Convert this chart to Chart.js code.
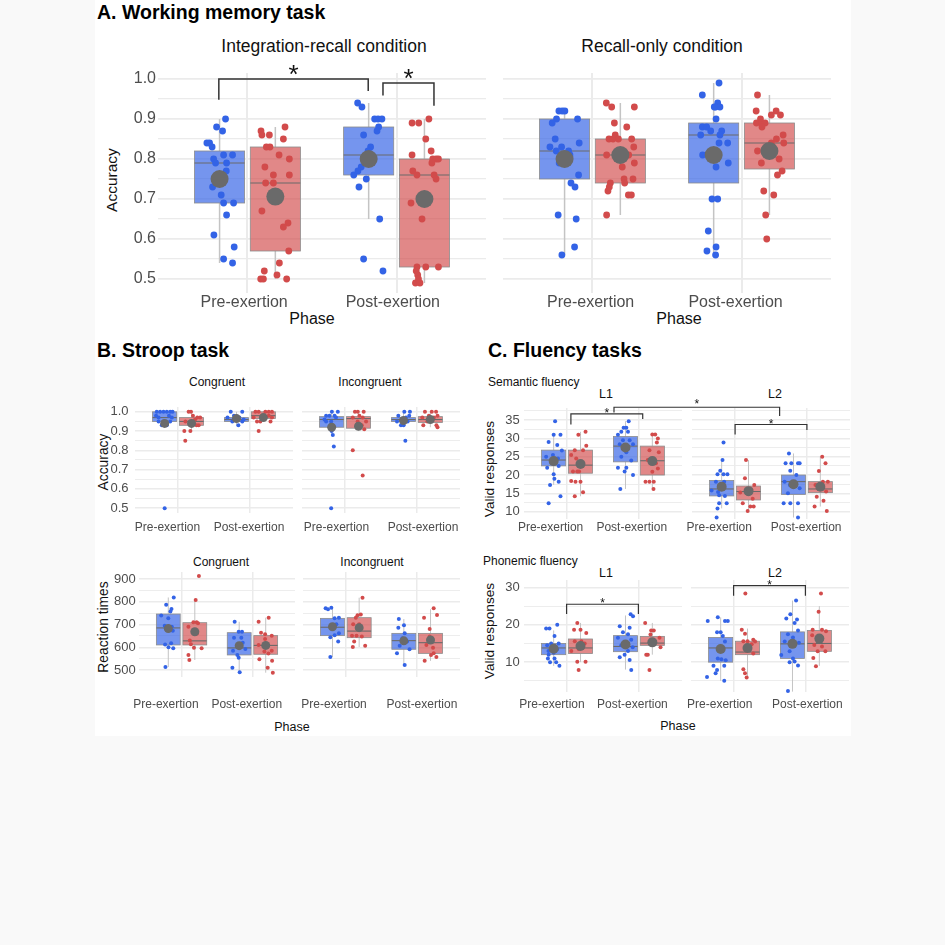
<!DOCTYPE html>
<html>
<head>
<meta charset="utf-8">
<script src="https://cdn.jsdelivr.net/npm/chart.js@4.4.1/dist/chart.umd.min.js"></script>
<style>
html, body { margin: 0; padding: 0; background: #f9f9f9; }
#fig { position: absolute; left: 95px; top: 0; width: 756px; height: 736px; background: #fff; }
canvas { position: absolute; }
.t { position: absolute; font-family: "Liberation Sans", Arial, sans-serif; white-space: nowrap; color: #111; }
.c { transform: translate(-50%, -50%); }
.l { transform: translate(0, -50%); }
.r { transform: translate(-50%, -50%) rotate(-90deg); }
.h { font-weight: bold; font-size: 19.5px; color: #000; }
</style>
</head>
<body>
<div id="fig"></div>

<div class="t l h" style="left:97px;top:12px">A. Working memory task</div>
<div class="t c" style="left:324px;top:46px;font-size:17.5px">Integration-recall condition</div>
<div class="t c" style="left:662px;top:46px;font-size:17.5px">Recall-only condition</div>
<div class="t r" style="left:112px;top:180px;font-size:15.5px">Accuracy</div>
<div class="t c" style="left:312px;top:319px;font-size:16px">Phase</div>
<div class="t c" style="left:679px;top:319px;font-size:16px">Phase</div>

<div class="t l h" style="left:97px;top:350px">B. Stroop task</div>
<div class="t c" style="left:217px;top:382px;font-size:12px">Congruent</div>
<div class="t c" style="left:370px;top:382px;font-size:12px">Incongruent</div>
<div class="t r" style="left:103px;top:462px;font-size:13.8px">Accuracy</div>
<div class="t c" style="left:221px;top:562px;font-size:12px">Congruent</div>
<div class="t c" style="left:372px;top:562px;font-size:12px">Incongruent</div>
<div class="t r" style="left:103px;top:627px;font-size:13.8px">Reaction times</div>
<div class="t c" style="left:292px;top:727px;font-size:12.5px">Phase</div>

<div class="t l h" style="left:488px;top:350px">C. Fluency tasks</div>
<div class="t l" style="left:488px;top:382px;font-size:12px">Semantic fluency</div>
<div class="t c" style="left:606px;top:394px;font-size:12.5px">L1</div>
<div class="t c" style="left:775px;top:394px;font-size:12.5px">L2</div>
<div class="t r" style="left:489px;top:469px;font-size:13.7px">Valid responses</div>
<div class="t l" style="left:483px;top:561px;font-size:12px">Phonemic fluency</div>
<div class="t c" style="left:606px;top:573px;font-size:12.5px">L1</div>
<div class="t c" style="left:775px;top:573px;font-size:12.5px">L2</div>
<div class="t r" style="left:489px;top:631px;font-size:13.7px">Valid responses</div>
<div class="t c" style="left:678px;top:726px;font-size:12.5px">Phase</div>

<script>
// ---- data ----
// group order in every panel: [pre blue, pre red, post blue, post red]
// boxes: [lowWhisker, q1, median, q3, highWhisker, mean]
// points: [jitter, value]
const phases = ['Pre-exertion', 'Post-exertion'];
const accTicks = [0.5, 0.6, 0.7, 0.8, 0.9, 1.0];
const rtTicks = [500, 600, 700, 800, 900];
const semTicks = [10, 15, 20, 25, 30, 35];
const phonTicks = [10, 20, 30];

const wmIntegBoxes = [
    [0.54, 0.69, 0.79, 0.82, 0.90, 0.75],
    [0.50, 0.57, 0.74, 0.83, 0.88, 0.706],
    [0.65, 0.76, 0.81, 0.88, 0.94, 0.80],
    [0.49, 0.53, 0.76, 0.80, 0.90, 0.70]
];
const wmIntegPoints = [
    [[0.04,0.90],[-0.02,0.88],[0.02,0.87],[-0.085,0.84],[-0.067,0.84],[-0.05,0.83],[0.027,0.81],[0.087,0.81],[-0.04,0.80],[-0.027,0.79],[0.047,0.79],[0.045,0.77],[-0.047,0.73],[0.011,0.71],[0.027,0.69],[0.094,0.69],[0.047,0.66],[-0.038,0.61],[0.098,0.58],[0.027,0.55],[0.087,0.54]],
    [[-0.096,0.87],[-0.09,0.86],[-0.04,0.86],[0.065,0.88],[0.054,0.85],[-0.06,0.83],[-0.036,0.83],[0.025,0.81],[0.094,0.80],[-0.07,0.78],[-0.013,0.76],[0.094,0.76],[-0.065,0.74],[-0.013,0.74],[-0.09,0.67],[0.085,0.64],[0.054,0.63],[0.09,0.57],[0.027,0.54],[-0.074,0.52],[0.011,0.51],[-0.098,0.50],[-0.08,0.50],[0.076,0.50]],
    [[-0.074,0.94],[-0.045,0.93],[0.04,0.90],[0.063,0.90],[0.089,0.90],[0.067,0.88],[0.056,0.87],[-0.034,0.86],[0.013,0.83],[-0.004,0.82],[-0.05,0.78],[-0.072,0.77],[-0.1,0.76],[-0.016,0.75],[-0.065,0.73],[0.074,0.65],[-0.034,0.55],[0.096,0.52]],
    [[-0.083,0.89],[-0.038,0.89],[0.03,0.90],[0.009,0.85],[0.045,0.82],[-0.083,0.81],[0.056,0.80],[0.078,0.80],[0.094,0.80],[0.05,0.79],[-0.078,0.77],[-0.05,0.76],[0.065,0.76],[0.078,0.75],[-0.09,0.69],[-0.016,0.65],[-0.05,0.53],[0.009,0.53],[0.094,0.53],[-0.055,0.52],[-0.045,0.51],[-0.06,0.49],[-0.03,0.49],[-0.04,0.50]]
];
const wmRecallBoxes = [
    [0.56, 0.75, 0.82, 0.90, 0.92, 0.80],
    [0.66, 0.74, 0.81, 0.85, 0.94, 0.81],
    [0.56, 0.74, 0.86, 0.89, 0.99, 0.81],
    [0.66, 0.775, 0.84, 0.89, 0.96, 0.82]
];
const wmRecallPoints = [
    [[-0.038,0.92],[-0.016,0.92],[0.002,0.92],[-0.054,0.90],[-0.083,0.89],[0.087,0.90],[-0.063,0.85],[-0.098,0.83],[-0.02,0.83],[0.098,0.84],[-0.056,0.82],[0.027,0.82],[0.036,0.81],[-0.036,0.79],[0.094,0.76],[0.043,0.74],[0.07,0.73],[-0.043,0.66],[0.078,0.65],[0.067,0.58],[-0.018,0.56]],
    [[-0.094,0.94],[-0.058,0.93],[0.094,0.93],[-0.04,0.89],[0.043,0.88],[-0.034,0.86],[-0.076,0.85],[-0.049,0.85],[-0.013,0.85],[0.076,0.85],[0.09,0.83],[-0.092,0.81],[0.056,0.81],[0.094,0.79],[0.013,0.78],[0.025,0.75],[0.085,0.75],[0.029,0.74],[-0.067,0.74],[-0.074,0.73],[-0.083,0.72],[0.054,0.71],[0.074,0.71],[-0.092,0.66]],
    [[0.036,0.99],[-0.076,0.96],[0.027,0.94],[0.013,0.93],[0.042,0.93],[0.004,0.93],[0.016,0.90],[-0.076,0.88],[-0.047,0.88],[-0.02,0.87],[0.054,0.87],[0.042,0.86],[-0.087,0.86],[0.094,0.84],[0.036,0.84],[-0.074,0.81],[0.098,0.79],[0.016,0.78],[-0.011,0.70],[0.027,0.70],[-0.036,0.62],[0.016,0.58],[-0.045,0.57],[0.013,0.56]],
    [[-0.08,0.96],[-0.089,0.92],[0.045,0.92],[0.013,0.91],[0.074,0.91],[-0.06,0.90],[-0.087,0.89],[-0.054,0.89],[-0.029,0.89],[-0.05,0.88],[0.092,0.86],[0.047,0.85],[0.096,0.84],[0.013,0.84],[-0.08,0.82],[0.065,0.80],[-0.054,0.79],[0.085,0.77],[0.054,0.76],[-0.038,0.72],[0.029,0.71],[-0.025,0.66],[-0.018,0.60]]
];

const stroopCongAccBoxes = [
    [0.93, 0.95, 0.97, 1.0, 1.0, 0.94],
    [0.90, 0.93, 0.95, 0.97, 1.0, 0.94],
    [0.93, 0.95, 0.96, 0.97, 1.0, 0.965],
    [0.95, 0.965, 0.98, 1.0, 1.0, 0.97]
];
const stroopCongAccPoints = [
    [[-0.11,1.0],[-0.063,1.0],[-0.016,1.0],[0.03,1.0],[0.077,1.0],[0.11,1.0],[-0.12,0.98],[0.06,0.98],[-0.085,0.97],[0.1,0.97],[-0.085,0.95],[-0.015,0.95],[0.077,0.95],[-0.04,0.93],[0.03,0.93],[0,0.5]],
    [[-0.04,1.0],[-0.007,1.0],[0.08,0.97],[0.12,0.97],[0.05,0.96],[-0.085,0.95],[0.03,0.95],[0.1,0.93],[0.07,0.93],[-0.1,0.90],[-0.016,0.90],[-0.087,0.85],[0.02,0.98]],
    [[-0.08,1.0],[0.08,1.0],[-0.035,0.98],[0.04,0.97],[-0.125,0.97],[-0.058,0.95],[0.08,0.95],[0.026,0.93],[0.1,0.96],[0.0,0.965]],
    [[-0.11,1.0],[-0.065,1.0],[0.028,1.0],[0.075,1.0],[0.12,1.0],[-0.02,0.98],[0.075,0.98],[-0.135,0.97],[0.12,0.97],[-0.088,0.95],[-0.042,0.95],[0.1,0.95],[-0.065,0.90]]
];
const stroopIncAccBoxes = [
    [0.88, 0.92, 0.96, 0.975, 1.0, 0.92],
    [0.90, 0.915, 0.965, 0.975, 1.0, 0.925],
    [0.93, 0.95, 0.96, 0.97, 1.0, 0.955],
    [0.92, 0.945, 0.96, 0.975, 1.0, 0.96]
];
const stroopIncAccPoints = [
    [[0.003,1.0],[0.086,1.0],[-0.077,0.98],[-0.03,0.98],[0.04,0.98],[-0.1,0.96],[0.06,0.97],[-0.077,0.95],[-0.007,0.95],[-0.016,0.93],[0.0,0.90],[0.016,0.88],[0.03,0.82],[-0.007,0.5]],
    [[-0.05,1.0],[-0.01,1.0],[0.072,1.0],[0.012,0.98],[-0.08,0.97],[0.058,0.97],[-0.012,0.95],[0.105,0.95],[0.045,0.93],[0.08,0.91],[-0.08,0.80],[0.058,0.67]],
    [[0.012,1.0],[0.09,1.0],[-0.072,0.98],[0.08,0.98],[0.035,0.97],[-0.09,0.95],[0.058,0.95],[-0.035,0.93],[0.002,0.93],[0.026,0.85]],
    [[-0.075,1.0],[0.02,1.0],[0.08,1.0],[-0.02,0.98],[0.1,0.98],[-0.112,0.97],[0.05,0.97],[-0.042,0.95],[-0.098,0.93],[0.1,0.92],[0.085,0.93]]
];
const stroopCongRtBoxes = [
    [513, 610, 685, 746, 819, 682],
    [544, 610, 628, 708, 808, 668],
    [490, 566, 597, 664, 712, 607],
    [488, 569, 608, 651, 730, 608]
];
const stroopCongRtPoints = [
    [[0.077,819],[-0.03,787],[0.045,768],[0.03,757],[-0.1,740],[0.0,728],[-0.05,695],[0.05,690],[-0.007,683],[0.064,672],[0.04,618],[-0.045,612],[0.003,600],[0.07,595],[-0.04,513]],
    [[0.058,913],[0.012,808],[-0.09,690],[-0.02,710],[0.026,710],[0.045,705],[-0.07,630],[-0.055,613],[-0.012,598],[0.096,595],[-0.09,566],[-0.077,544],[0.03,660]],
    [[-0.064,712],[-0.007,668],[0.04,668],[-0.073,642],[0.03,642],[0.087,592],[-0.087,584],[-0.026,566],[-0.007,554],[-0.096,510],[0.007,490],[0.05,620]],
    [[0.042,730],[-0.1,712],[-0.066,664],[-0.009,657],[0.085,651],[-0.009,636],[-0.1,610],[-0.019,581],[0.038,572],[0.085,584],[-0.089,547],[0.09,540],[0.028,510],[0.1,488]]
];
const stroopIncRtBoxes = [
    [557, 651, 688, 727, 774, 690],
    [601, 642, 671, 730, 818, 686],
    [522, 591, 629, 661, 724, 628],
    [540, 573, 620, 661, 767, 632]
];
const stroopIncRtPoints = [
    [[-0.096,771],[-0.063,767],[-0.016,774],[0.03,727],[0.09,730],[0.054,701],[-0.007,683],[0.09,661],[0.03,653],[-0.03,644],[0.08,625],[-0.03,557]],
    [[0.047,818],[-0.023,741],[0.023,744],[-0.047,730],[-0.084,701],[0,701],[-0.1,650],[-0.037,651],[0.037,647],[-0.07,625],[-0.089,601],[0.084,607]],
    [[-0.07,724],[-0.077,686],[0.002,697],[0.012,661],[0.045,625],[-0.058,606],[0.08,591],[-0.096,573],[0.012,522],[-0.02,640]],
    [[0.044,771],[-0.091,730],[0.091,742],[-0.012,680],[-0.012,647],[-0.058,610],[0.035,598],[0.044,573],[0.007,566],[0.082,557],[-0.082,540]]
];

const semL1Boxes = [
    [17.3, 22.5, 24.1, 26.8, 31, 23.8],
    [14.2, 20.5, 22.7, 26.8, 31.8, 23],
    [16.2, 23.6, 27.9, 30.5, 34.7, 27.5],
    [16.2, 20, 23.9, 27.9, 31.1, 23.8]
];
const semL1Points = [
    [[0.02,34.7],[0.0,31],[0.095,31],[-0.07,29],[0.05,28.2],[0.114,26.7],[-0.01,25.5],[-0.105,25],[0.06,24.5],[-0.035,23.5],[-0.09,22],[0.07,22.5],[0.0,20.2],[0.01,19],[0.07,18.2],[-0.05,17.3],[0.095,14.2],[-0.07,12.3]],
    [[-0.03,31],[0.07,31.8],[0.08,28],[-0.08,26.8],[0.035,26.8],[-0.13,25.5],[-0.06,24.5],[0.012,23.6],[-0.02,21],[-0.105,21],[-0.045,21],[-0.13,18.4],[0.0,18.2],[-0.07,18.2],[0.035,15.3],[-0.08,14.2]],
    [[0.045,34.7],[-0.026,32.9],[0.012,32.9],[-0.058,31.8],[0.035,31.8],[-0.105,31],[-0.035,29.5],[0.058,29.5],[-0.08,28.4],[0.105,28.4],[0.012,26.2],[-0.058,25],[0.08,24],[-0.105,22],[0.012,22],[-0.012,21],[0.105,20],[-0.072,16.2]],
    [[0.0,31.1],[0.04,31.1],[0.077,30],[0.063,28.9],[-0.04,26.8],[0.09,26.2],[-0.063,24.1],[0.05,23.2],[0.077,21.8],[0.0,20.9],[-0.095,18.2],[-0.04,18.2],[0.02,18.2],[0.016,16.2]]
];
const semL2Boxes = [
    [10.9, 14.3, 16.2, 18.5, 24.1, 16.8],
    [10, 13.2, 15.5, 17, 24.1, 15.6],
    [8.4, 14.7, 18.2, 20, 25.9, 17.5],
    [11.4, 15.2, 16.2, 18.2, 25, 16.8]
];
const semL2Points = [
    [[0.026,28.9],[0.012,24.1],[-0.02,21.2],[-0.058,20.2],[0.026,20.2],[0.08,20.2],[-0.08,18.2],[0.035,18.2],[-0.14,15.8],[-0.05,15.4],[-0.035,14.5],[0.045,14.3],[-0.035,12.3],[0.07,12.3],[-0.058,10.9],[-0.07,8.4]],
    [[-0.035,24.1],[-0.05,19.1],[0.08,17.3],[-0.115,15.2],[-0.01,14.8],[0.058,13.5],[-0.08,12.3],[0.025,11.4],[0.072,11.4],[-0.012,10.2],[0.04,16]],
    [[-0.063,25.9],[-0.11,23.2],[-0.03,23.2],[0.063,23.2],[0.086,23.2],[-0.045,21.2],[0.04,20],[-0.123,18.2],[-0.05,17.3],[0.086,16.4],[-0.077,15],[-0.137,12.3],[-0.044,12.3],[0.063,12.3],[0.063,8.4]],
    [[0.026,25],[0.072,23.2],[-0.02,21.1],[0.035,18.2],[0.105,18.2],[-0.068,17.3],[-0.035,16.4],[0.08,15.5],[-0.05,14.1],[0.044,13],[-0.08,11.4],[0.09,10.2]]
];
const phonL1Boxes = [
    [9, 12, 13.8, 15, 18.5, 13.6],
    [10, 12.3, 13.8, 16.2, 20.5, 14.3],
    [8, 12.8, 14.2, 17.1, 22.5, 14.7],
    [12, 14.5, 15.1, 16.9, 20.5, 15.3]
];
const phonL1Points = [
    [[0.05,20],[-0.105,19],[-0.058,19],[0.012,17],[-0.035,15],[0.07,15],[-0.09,14.5],[-0.01,14],[0.05,13.5],[-0.072,13],[0.0,12.5],[-0.07,12],[-0.08,11],[0.012,11],[0.035,10],[-0.05,10],[0.08,9]],
    [[-0.045,20.5],[-0.09,18.7],[0.0,18.7],[0.08,17.8],[-0.08,15.6],[0.012,15.6],[0.058,15],[-0.026,13.5],[-0.128,13],[-0.045,10.1],[0.07,10.1],[-0.026,7.9]],
    [[0.072,22.8],[0.105,22.3],[-0.08,19.6],[0.058,19.2],[-0.035,18],[0.035,17.5],[-0.105,16.5],[0.08,16],[-0.058,14.5],[0.035,13],[-0.012,12],[-0.08,11.3],[0.058,10.6],[0.08,7.9],[0.1,14]],
    [[-0.1,20.5],[0.02,18.5],[-0.016,18.5],[-0.026,17.4],[0.1,16.5],[0.03,15.5],[0.114,14],[-0.085,12],[-0.063,12],[-0.04,7.9]]
];
const phonL2Boxes = [
    [5, 10, 13.8, 16.6, 22, 13.5],
    [6, 12, 12.7, 15.6, 19, 13.8],
    [2.1, 11, 14.9, 18.1, 26.5, 14.9],
    [9, 12.9, 15, 18.5, 25, 16.3]
];
const phonL2Points = [
    [[-0.18,21],[-0.04,22],[0.06,21],[0.1,21],[0.0,18],[-0.05,18],[0.03,17],[0.06,15.5],[-0.04,11],[0.01,10.8],[0.07,10.5],[-0.1,9],[0.05,9],[-0.05,7.9],[-0.07,7],[-0.19,6],[0.05,5]],
    [[-0.03,28.4],[-0.08,18.7],[-0.035,17.6],[0.08,16],[-0.058,15.6],[0,15.6],[0.058,14.8],[0.105,15.5],[-0.01,13],[0.08,12.3],[-0.058,8.1],[-0.035,7],[-0.012,5.9]],
    [[0.05,26.5],[-0.03,22.8],[-0.086,21.7],[0.063,21.4],[0.03,20.5],[0.077,18.5],[-0.063,17.5],[0.007,16.6],[-0.108,15.5],[0.09,15.2],[-0.04,12.9],[-0.156,11.9],[0.007,11],[0.03,10.2],[-0.04,10],[0.077,9.1],[-0.063,2.3]],
    [[0.023,28.4],[-0.01,23.5],[-0.093,18.7],[0.037,18.7],[0.093,18.3],[-0.1,17.2],[-0.023,15.9],[-0.07,14.6],[0.037,14.2],[-0.023,12.9],[0.084,12.9],[-0.084,11.1],[-0.047,8.9]]
];

// significance brackets: [xLeft, xRight, yTop, yLeftEnd, yRightEnd]
const wmIntegBrackets = [[0.808, 1.81, 1.0, 0.948, 0.97], [1.909, 2.251, 0.99, 0.959, 0.933]];
const semL1Brackets = [[1.06, 2.06, 36.7, 33.8, 35.3]];
const semL2Brackets = [[1.0, 2.0, 33.8, 31.1, 32.3]];
const semCrossBracket = [1.66, 1.62, 38.5, 37.1, 36.1];
const phonL1Brackets = [[1.0, 2.0, 25.5, 22.9, 22.9]];
const phonL2Brackets = [[1.0, 2.0, 30.5, 27.8, 27.8]];

// ---- drawing ----
const BLUE = '#3363e6', RED = '#d24b4b';
const BLUE_FILL = 'rgba(51,99,230,0.68)', RED_FILL = 'rgba(210,75,75,0.66)';
const MEAN = '#6a6a6a', GRID = '#ebebeb', TICK = '#4d4d4d';
const FONT = '"Liberation Sans", Arial, sans-serif';
const DODGE = 0.187, HALF = 0.168;
const PAD = 14; // spare room round each plot so edge labels are not cut

function groupCenter(i) {
    return (i < 2 ? 1 : 2) + (i % 2 === 0 ? -DODGE : DODGE);
}

// scales get a fixed size and no extra label padding, so the plot area lands where we put it
function fixSize(s, w, h) {
    if (w !== null) s.width = w;
    if (h !== null) s.height = h;
    s.paddingLeft = 0; s.paddingRight = 0; s.paddingTop = 0; s.paddingBottom = 0;
}

const panels = {};

function makePanel(name, p) {
    const cv = document.createElement('canvas');
    const cl = p.l - p.yw - PAD, ct = p.t - PAD;
    const W = PAD + p.yw + p.w + PAD, H = PAD + p.h + p.xh;
    cv.width = W; cv.height = H;
    cv.style.left = cl + 'px'; cv.style.top = ct + 'px';
    cv.style.width = W + 'px'; cv.style.height = H + 'px';
    document.body.appendChild(cv);

    const step = p.major[1] - p.major[0];
    const yTicks = p.major.map(v => ({value: v, lab: p.fmt(v)}));
    [p.major[0] - step / 2].concat(p.major.map(v => v + step / 2)).forEach(v => {
        if (v > p.yMin && v < p.yMax) yTicks.push({value: v, lab: ''});
    });
    yTicks.sort((a, b) => a.value - b.value);

    const datasets = [{
        data: p.boxes.map((b, i) => ({x: groupCenter(i), y: b[5]})),
        pointRadius: p.R, backgroundColor: MEAN, borderWidth: 0, clip: false
    }];
    p.pts.forEach((g, i) => datasets.push({
        data: g.map(q => ({x: groupCenter(i) + q[0], y: q[1]})),
        pointRadius: p.r, backgroundColor: i % 2 ? RED : BLUE, borderWidth: 0, clip: false
    }));

    const boxPlugin = {
        id: 'boxes',
        beforeDatasetsDraw(chart) {
            const {ctx, scales: {x, y}} = chart;
            ctx.save();
            p.boxes.forEach((b, i) => {
                const c = groupCenter(i);
                const xl = x.getPixelForValue(c - HALF), xr = x.getPixelForValue(c + HALF);
                const xm = x.getPixelForValue(c);
                const [lo, q1, med, q3, hi] = b.slice(0, 5).map(v => y.getPixelForValue(v));
                ctx.strokeStyle = '#c4c4c4';
                ctx.lineWidth = p.wl;
                ctx.beginPath();
                ctx.moveTo(xm, hi); ctx.lineTo(xm, q3);
                ctx.moveTo(xm, q1); ctx.lineTo(xm, lo);
                ctx.stroke();
                ctx.fillStyle = i % 2 ? RED_FILL : BLUE_FILL;
                ctx.fillRect(xl, q3, xr - xl, q1 - q3);
                ctx.strokeStyle = '#8c8c8c';
                ctx.lineWidth = 0.8;
                ctx.strokeRect(xl, q3, xr - xl, q1 - q3);
                ctx.strokeStyle = '#6a6a6a';
                ctx.lineWidth = 1.1;
                ctx.beginPath();
                ctx.moveTo(xl, med); ctx.lineTo(xr, med);
                ctx.stroke();
            });
            ctx.restore();
        }
    };

    const chart = new Chart(cv, {
        type: 'scatter',
        data: {datasets},
        options: {
            responsive: false,
            animation: false,
            events: [],
            layout: {padding: {left: PAD, right: PAD, top: PAD, bottom: 0}, autoPadding: false},
            plugins: {legend: {display: false}, tooltip: {enabled: false}},
            scales: {
                x: {
                    type: 'linear', min: 0.4, max: 2.6,
                    afterBuildTicks: s => { s.ticks = [{value: 1}, {value: 2}]; },
                    afterFit: s => fixSize(s, null, 0),
                    ticks: {display: false},
                    border: {display: false},
                    grid: {color: GRID, lineWidth: p.vw, drawTicks: false}
                },
                xl: {
                    type: 'linear', position: 'bottom', min: 0.4, max: 2.6,
                    afterBuildTicks: s => { s.ticks = p.labelAt.map(v => ({value: v})); },
                    afterFit: s => fixSize(s, null, p.xh),
                    grid: {display: false, drawTicks: false},
                    border: {display: false},
                    ticks: {
                        callback: (v, i) => phases[i],
                        autoSkip: false, maxRotation: 0,
                        padding: p.labelPad, color: TICK,
                        font: {family: FONT, size: p.xSize}
                    }
                },
                y: {
                    type: 'linear', min: p.yMin, max: p.yMax, bounds: 'data',
                    afterBuildTicks: s => { s.ticks = yTicks.map(t => ({...t})); },
                    afterFit: s => fixSize(s, p.yw, null),
                    border: {display: false},
                    grid: {
                        color: GRID, drawTicks: false,
                        lineWidth: ctx => (ctx.tick && ctx.tick.lab) ? p.hMaj : p.hMin
                    },
                    ticks: {
                        display: p.yw > 0,
                        autoSkip: false,
                        callback: (v, i, ticks) => ticks[i].lab,
                        padding: p.yPad, color: TICK,
                        font: {family: FONT, size: p.ySize}
                    }
                }
            }
        },
        plugins: [boxPlugin]
    });
    panels[name] = {chart, cl, ct};
}

const big = {r: 3.4, R: 9, wl: 1.5, vw: 2, hMaj: 1.8, hMin: 1.2, xh: 40, xSize: 16, ySize: 16};
const small = {r: 2, R: 4.5, wl: 1, vw: 1.5, hMaj: 1.4, hMin: 0.9, xh: 45, xSize: 12, ySize: 13};
const accFmt = v => v.toFixed(1), intFmt = v => String(v);

makePanel('wmInteg', {...big, l: 158, t: 73, w: 328, h: 220, yw: 50, yPad: 2, labelPad: 0,
    yMin: 0.465, yMax: 1.015, major: accTicks, fmt: accFmt, labelAt: [0.978, 1.975],
    boxes: wmIntegBoxes, pts: wmIntegPoints});
makePanel('wmRecall', {...big, l: 503, t: 73, w: 328, h: 220, yw: 0, yPad: 2, labelPad: 0,
    yMin: 0.465, yMax: 1.015, major: accTicks, fmt: accFmt, labelAt: [0.988, 1.96],
    boxes: wmRecallBoxes, pts: wmRecallPoints});

makePanel('congAcc', {...small, l: 135, t: 407, w: 158, h: 106, yw: 35, yPad: 6.5, labelPad: 7.8,
    yMin: 0.475, yMax: 1.025, major: accTicks, fmt: accFmt, labelAt: [0.852, 1.987],
    boxes: stroopCongAccBoxes, pts: stroopCongAccPoints});
makePanel('incAcc', {...small, l: 301.5, t: 407, w: 158, h: 106, yw: 0, yPad: 6.5, labelPad: 7.8,
    yMin: 0.475, yMax: 1.025, major: accTicks, fmt: accFmt, labelAt: [0.88, 2.085],
    boxes: stroopIncAccBoxes, pts: stroopIncAccPoints});
makePanel('congRt', {...small, l: 139, t: 572, w: 156, h: 105, yw: 38, yPad: 3.3, labelPad: 20.8,
    yMin: 469, yMax: 931, major: rtTicks, fmt: intFmt, labelAt: [0.78, 1.92],
    boxes: stroopCongRtBoxes, pts: stroopCongRtPoints});
makePanel('incRt', {...small, l: 303, t: 572, w: 157, h: 105, yw: 0, yPad: 3.3, labelPad: 20.8,
    yMin: 469, yMax: 931, major: rtTicks, fmt: intFmt, labelAt: [0.835, 2.067],
    boxes: stroopIncRtBoxes, pts: stroopIncRtPoints});

makePanel('semL1', {...small, R: 5, l: 523.5, t: 408, w: 158, h: 111, yw: 30, yPad: 4.2, labelPad: 1.8,
    yMin: 8, yMax: 38.3, major: semTicks, fmt: intFmt, labelAt: [0.77, 1.9],
    boxes: semL1Boxes, pts: semL1Points});
makePanel('semL2', {...small, R: 5, l: 692, t: 408, w: 158, h: 111, yw: 0, yPad: 4.2, labelPad: 1.8,
    yMin: 8, yMax: 38.3, major: semTicks, fmt: intFmt, labelAt: [0.78, 1.99],
    boxes: semL2Boxes, pts: semL2Points});
makePanel('phonL1', {...small, R: 5, l: 523.5, t: 580, w: 158, h: 112, yw: 30, yPad: 4.2, labelPad: 5.7,
    yMin: 2, yMax: 32, major: phonTicks, fmt: intFmt, labelAt: [0.79, 1.91],
    boxes: phonL1Boxes, pts: phonL1Points});
makePanel('phonL2', {...small, R: 5, l: 690.5, t: 580, w: 158.5, h: 112, yw: 0, yPad: 4.2, labelPad: 5.7,
    yMin: 2, yMax: 32, major: phonTicks, fmt: intFmt, labelAt: [0.8, 2.02],
    boxes: phonL2Boxes, pts: phonL2Points});

// ---- significance brackets, placed through each panel's scales ----
const overlay = document.createElement('canvas');
overlay.width = 945; overlay.height = 945;
overlay.style.left = '0px'; overlay.style.top = '0px';
overlay.style.pointerEvents = 'none';
document.body.appendChild(overlay);
const octx = overlay.getContext('2d');

function toPage(name, xv, yv) {
    const {chart, cl, ct} = panels[name];
    return [cl + chart.scales.x.getPixelForValue(xv), ct + chart.scales.y.getPixelForValue(yv)];
}

function bracket(leftPanel, rightPanel, b, starSize, starGap, lw) {
    const [x1, yt] = toPage(leftPanel, b[0], b[2]);
    const [, y1] = toPage(leftPanel, b[0], b[3]);
    const [x2] = toPage(rightPanel, b[1], b[2]);
    const [, y2] = toPage(rightPanel, b[1], b[4]);
    octx.strokeStyle = '#333';
    octx.lineWidth = lw;
    octx.beginPath();
    octx.moveTo(x1, y1); octx.lineTo(x1, yt); octx.lineTo(x2, yt); octx.lineTo(x2, y2);
    octx.stroke();
    octx.fillStyle = '#111';
    octx.font = starSize + 'px ' + FONT;
    octx.textAlign = 'center';
    octx.textBaseline = 'alphabetic';
    octx.fillText('*', (x1 + x2) / 2, yt - starGap + 0.56 * starSize);
}

wmIntegBrackets.forEach(b => bracket('wmInteg', 'wmInteg', b, 26, 11, 1.5));
semL1Brackets.forEach(b => bracket('semL1', 'semL1', b, 12, 3.5, 1.2));
semL2Brackets.forEach(b => bracket('semL2', 'semL2', b, 12, 3.5, 1.2));
bracket('semL1', 'semL2', semCrossBracket, 12, 6, 1.2);
phonL1Brackets.forEach(b => bracket('phonL1', 'phonL1', b, 12, 3.5, 1.2));
phonL2Brackets.forEach(b => bracket('phonL2', 'phonL2', b, 12, 3.5, 1.2));
</script>
</body>
</html>
